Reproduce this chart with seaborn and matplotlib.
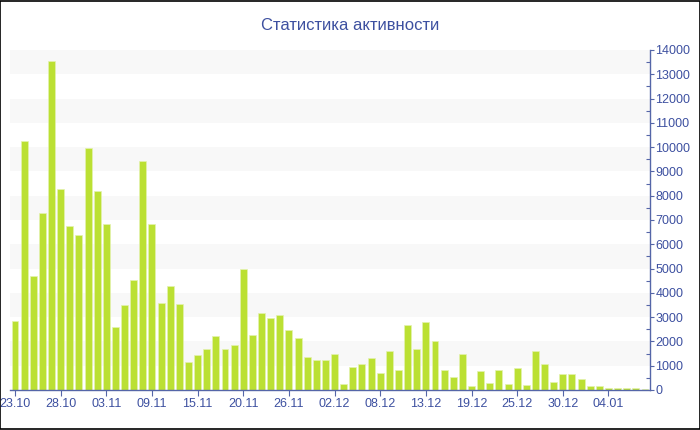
import matplotlib
matplotlib.use("Agg")
import matplotlib.pyplot as plt
import seaborn as sns
import pandas as pd
from matplotlib.ticker import MultipleLocator

values = [2840, 10250, 4710, 7300, 13530, 8260, 6740, 6400, 9960, 8210,
          6830, 2580, 3490, 4530, 9430, 6850, 3600, 4280, 3530, 1140,
          1430, 1690, 2220, 1670, 1850, 5000, 2250, 3180, 2960, 3070,
          2460, 2140, 1370, 1250, 1220, 1500, 230, 950, 1070, 1330,
          690, 1610, 810, 2680, 1690, 2790, 2030, 810, 520, 1500,
          180, 770, 300, 810, 230, 910, 220, 1590, 1070, 320,
          650, 650, 450, 160, 160, 80, 100, 70, 70, 40]
days = list(range(len(values)))
tick_labels = ["23.10", "28.10", "03.11", "09.11", "15.11", "20.11", "26.11",
               "02.12", "08.12", "13.12", "19.12", "25.12", "30.12", "04.01"]
tick_step = 5
title = "Статистика активности"

bar_color = "#bbe033"
text_color = "#3d50a0"
axis_color = "#5566a8"

sns.set_theme(style="white")
plt.rcParams["font.family"] = ["Liberation Sans", "DejaVu Sans"]

df = pd.DataFrame({"day": days, "value": values})

fig = plt.figure(figsize=(7, 4.3), dpi=100)
ax = fig.add_axes([10 / 700, 1 - 390 / 430, 640 / 700, 340 / 430])

# alternating bands
for lo in range(1000, 14000, 2000):
    ax.axhspan(lo, lo + 1000, color="#f8f8f8", zorder=0, lw=0)

sns.barplot(data=df, x="day", y="value", color=bar_color, saturation=1,
            width=0.76, edgecolor="#e4f2b0", linewidth=0.5, ax=ax, zorder=2)

ax.set_xlim(-0.55, 69.55)
ax.set_ylim(0, 14000)

ax.set_xticks(list(range(0, len(tick_labels) * tick_step, tick_step)))
ax.set_xticklabels(tick_labels)
ax.set_xlabel("")
ax.set_ylabel("")

ax.yaxis.tick_right()
ax.yaxis.set_major_locator(MultipleLocator(1000))
ax.yaxis.set_minor_locator(MultipleLocator(500))
ax.tick_params(axis="y", which="major", direction="out", length=3, width=0.8,
               color=axis_color, labelcolor=text_color, labelsize=9, pad=1,
               left=False, right=True)
ax.tick_params(axis="y", which="minor", direction="in", length=3, width=0.8,
               color=axis_color, left=False, right=True)
ax.tick_params(axis="x", direction="out", length=4, width=0.8,
               color=axis_color, labelcolor=text_color, labelsize=9, pad=2,
               bottom=True)

for s in ["top", "left"]:
    ax.spines[s].set_visible(False)
for s in ["right", "bottom"]:
    ax.spines[s].set_color(axis_color)
    ax.spines[s].set_linewidth(1)
ax.grid(False)

fig.text(0.5, 1 - 25 / 430, title, ha="center", va="center",
         color=text_color, fontsize=12)

# figure border
fig.patches.append(plt.Rectangle((0.0007, 0.0012), 0.9986, 0.9976,
                                 transform=fig.transFigure, fill=False,
                                 edgecolor="black", linewidth=1.2))

fig.savefig("out.png", dpi=100)
